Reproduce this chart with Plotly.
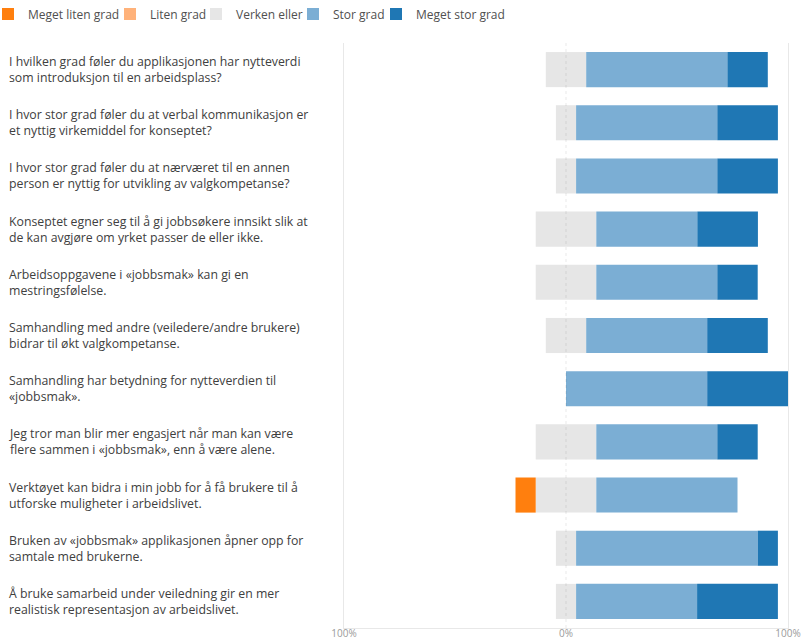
import plotly.graph_objects as go

categories = [
    "I hvilken grad føler du applikasjonen har nytteverdi<br>som introduksjon til en arbeidsplass?",
    "I hvor stor grad føler du at verbal kommunikasjon er<br>et nyttig virkemiddel for konseptet?",
    "I hvor stor grad føler du at nærværet til en annen<br>person er nyttig for utvikling av valgkompetanse?",
    "Konseptet egner seg til å gi jobbsøkere innsikt slik at<br>de kan avgjøre om yrket passer de eller ikke.",
    "Arbeidsoppgavene i «jobbsmak» kan gi en<br>mestringsfølelse.",
    "Samhandling med andre (veiledere/andre brukere)<br>bidrar til økt valgkompetanse.",
    "Samhandling har betydning for nytteverdien til<br>«jobbsmak».",
    "Jeg tror man blir mer engasjert når man kan være<br>flere sammen i «jobbsmak», enn å være alene.",
    "Verktøyet kan bidra i min jobb for å få brukere til å<br>utforske muligheter i arbeidslivet.",
    "Bruken av «jobbsmak» applikasjonen åpner opp for<br>samtale med brukerne.",
    "Å bruke samarbeid under veiledning gir en mer<br>realistisk representasjon av arbeidslivet.",
]

# Percent of respondents per answer
meget_liten = [0, 0, 0, 0, 0, 0, 0, 0, 9.1, 0, 0]
liten = [0, 0, 0, 0, 0, 0, 0, 0, 0, 0, 0]
verken = [18.2, 9.1, 9.1, 27.3, 27.3, 18.2, 0, 27.3, 27.3, 9.1, 9.1]
stor = [63.6, 63.6, 63.6, 45.5, 54.5, 54.5, 63.6, 54.5, 63.6, 81.8, 54.5]
meget_stor = [18.2, 27.3, 27.3, 27.3, 18.2, 27.3, 36.4, 18.2, 0, 9.1, 36.4]

tick_vals = [-100, 0, 100]
tick_text = ["100%", "0%", "100%"]

C_ML = "#FF7F0E"
C_L = "#FFB27A"
C_V = "#E6E6E6"
C_S = "#7BAED4"
C_MS = "#1F77B4"

FONT = "Open Sans"

L, R, T, B = 344, 15, 43, 14
W, H = 803, 642
pw = W - L - R
ph = H - T - B


def px_x(p):
    return (p - L) / pw


fig = go.Figure()
# negative side (stacked outward from zero)
fig.add_trace(go.Bar(y=categories, x=[-v / 2 for v in verken], orientation="h",
                     marker=dict(color=C_V, line_width=0), name="Verken eller",
                     showlegend=False))
fig.add_trace(go.Bar(y=categories, x=[-v for v in liten], orientation="h",
                     marker=dict(color=C_L, line_width=0), name="Liten grad",
                     legend="legend2"))
fig.add_trace(go.Bar(y=categories, x=[-v for v in meget_liten], orientation="h",
                     marker=dict(color=C_ML, line_width=0), name="Meget liten grad",
                     legend="legend"))
# positive side
fig.add_trace(go.Bar(y=categories, x=[v / 2 for v in verken], orientation="h",
                     marker=dict(color=C_V, line_width=0), name="Verken eller",
                     legend="legend3"))
fig.add_trace(go.Bar(y=categories, x=stor, orientation="h",
                     marker=dict(color=C_S, line_width=0), name="Stor grad",
                     legend="legend4"))
fig.add_trace(go.Bar(y=categories, x=meget_stor, orientation="h",
                     marker=dict(color=C_MS, line_width=0), name="Meget stor grad",
                     legend="legend5"))

for cat in categories:
    fig.add_annotation(x=px_x(7), xref="paper", y=cat, yref="y",
                       text=cat, showarrow=False, xanchor="left", align="left",
                       yanchor="middle",
                       font=dict(family=FONT, size=12.3, color="#404040"))

fig.add_shape(type="line", xref="x", yref="paper", x0=0, x1=0, y0=0, y1=1,
              line=dict(color="rgba(0,0,0,0.09)", width=1, dash="dot"),
              layer="above")

legend_y = 1 + (T - 14) / ph
legend_left_px = [8 - 20, 134 - 24, 220 - 24, 317 - 24, 400 - 24]
legend_common = dict(orientation="h", xanchor="left", yanchor="middle", y=legend_y,
                     font=dict(family=FONT, size=12, color="#505050"),
                     itemclick=False, itemdoubleclick=False,
                     bgcolor="rgba(0,0,0,0)", borderwidth=0)

fig.update_layout(
    width=W, height=H,
    margin=dict(l=L, r=R, t=T, b=B, autoexpand=False),
    barmode="relative",
    bargap=0.34,
    plot_bgcolor="white",
    paper_bgcolor="white",
    font=dict(family=FONT, size=12, color="#404040"),
    legend=dict(x=px_x(legend_left_px[0]), **legend_common),
    legend2=dict(x=px_x(legend_left_px[1]), **legend_common),
    legend3=dict(x=px_x(legend_left_px[2]), **legend_common),
    legend4=dict(x=px_x(legend_left_px[3]), **legend_common),
    legend5=dict(x=px_x(legend_left_px[4]), **legend_common),
    xaxis=dict(range=[-100, 100], tickvals=tick_vals, ticktext=tick_text,
               showgrid=False, zeroline=False, showline=True,
               linecolor="#E8E8E8", linewidth=1, ticks="",
               tickfont=dict(family=FONT, size=10, color="#9A9A9A"),
               ticklabelstandoff=-4,
               automargin=False, fixedrange=True),
    yaxis=dict(autorange="reversed", showticklabels=False, showgrid=False,
               zeroline=False, showline=True, mirror=True,
               linecolor="#E8E8E8", linewidth=1, ticks="",
               automargin=False, fixedrange=True),
    showlegend=True,
)

fig.write_html("out.html", config={"displayModeBar": False},
               post_script="document.body.style.margin='0';"
                           "document.body.style.overflow='hidden';")
